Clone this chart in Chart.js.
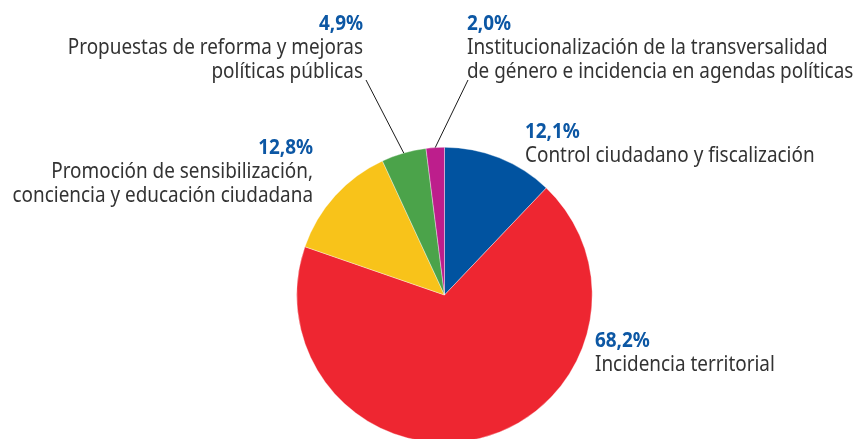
<!DOCTYPE html>
<html>
<head>
<meta charset="utf-8">
<script src="https://cdn.jsdelivr.net/npm/chart.js@4/dist/chart.umd.min.js"></script>
<style>
  html, body { margin: 0; padding: 0; background: #fff; overflow: hidden; }
  #wrap { position: absolute; left: 0; top: 0; width: 857px; height: 460px; }
</style>
</head>
<body>
<div id="wrap"><canvas id="pie" width="857" height="460"></canvas></div>
<script>
    // slices, clockwise from 12 o'clock
    const categories = [
        ["Control ciudadano y fiscalización"],
        ["Incidencia territorial"],
        ["Promoción de sensibilización,", "conciencia y educación ciudadana"],
        ["Propuestas de reforma y mejoras", "políticas públicas"],
        ["Institucionalización de la transversalidad", "de género e incidencia en agendas políticas"]
    ];
    const shares = [12.1, 68.2, 12.8, 4.9, 2.0];
    const sliceColors = ["#0153a0", "#ee2631", "#f8c31a", "#4ba34a", "#bd1e8c"];

    // where each label block sits (x, baseline of the % line, alignment, leader line?)
    const labelSpots = [
        { x: 525, y: 138, align: "left", leader: false },
        { x: 595, y: 347, align: "left", leader: false },
        { x: 313, y: 154, align: "right", leader: false },
        { x: 363, y: 30, align: "right", leader: [366, 80] },
        { x: 467, y: 30, align: "left", leader: [468, 80] }
    ];

    const pctText = v => v.toFixed(1).replace(".", ",") + "%";

    // draws text a little narrower, the original face is condensed
    function drawText(ctx, txt, x, y, align, font, color) {
        const sx = 0.9;
        ctx.save();
        ctx.font = font;
        ctx.fillStyle = color;
        ctx.textBaseline = "alphabetic";
        ctx.textAlign = "left";
        let w = ctx.measureText(txt).width * sx;
        let left = align == "right" ? x - w : x;
        ctx.translate(left, y);
        ctx.scale(sx, 1);
        ctx.fillText(txt, 0, 0);
        ctx.restore();
    }

    const labelPlugin = {
        id: "outsideLabels",
        afterDatasetsDraw(chart) {
            const ctx = chart.ctx;
            const arcs = chart.getDatasetMeta(0).data;
            labelSpots.forEach(function (spot, i) {
                drawText(ctx, pctText(shares[i]), spot.x, spot.y, spot.align,
                    "bold 21px 'Noto Sans'", "#0c57a4");
                categories[i].forEach(function (line, j) {
                    drawText(ctx, line, spot.x, spot.y + 24 + j * 23.5, spot.align,
                        "21px 'Noto Sans'", "#333333");
                });
                if (spot.leader) {
                    // leader line to the middle of the slice edge
                    let a = arcs[i];
                    let mid = (a.startAngle + a.endAngle) / 2;
                    let ex = a.x + Math.cos(mid) * a.outerRadius;
                    let ey = a.y + Math.sin(mid) * a.outerRadius;
                    ctx.save();
                    ctx.strokeStyle = "#1a1a1a";
                    ctx.lineWidth = 1;
                    ctx.beginPath();
                    ctx.moveTo(spot.leader[0], spot.leader[1]);
                    ctx.lineTo(ex, ey);
                    ctx.stroke();
                    ctx.restore();
                }
            });
        }
    };

    new Chart(document.getElementById("pie"), {
        type: "pie",
        data: {
            labels: categories.map(c => c.join(" ")),
            datasets: [{
                data: shares,
                backgroundColor: sliceColors,
                borderColor: "rgba(255,255,255,0.6)",
                borderWidth: 0.6
            }]
        },
        options: {
            responsive: false,
            animation: false,
            layout: { padding: { top: 147, bottom: 17, left: 296, right: 264 } },
            plugins: {
                legend: { display: false },
                tooltip: { enabled: false }
            }
        },
        plugins: [labelPlugin]
    });
</script>
</body>
</html>
